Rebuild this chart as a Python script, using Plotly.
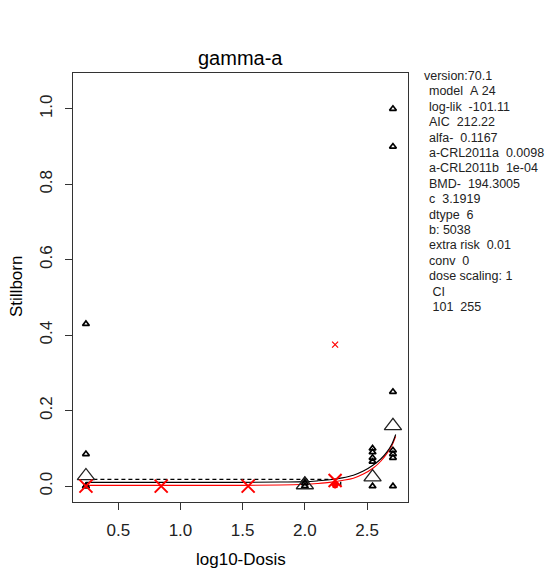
import plotly.graph_objects as go

# ---- data ----
obs_x = [0.240, 0.240, 0.240, 0.240,
         2.000, 2.000, 2.000,
         2.544, 2.544, 2.544, 2.544, 2.544,
         2.708, 2.708, 2.708, 2.708, 2.708, 2.708, 2.708]
obs_y = [0.430, 0.085, 0.000, 0.000,
         0.016, 0.008, 0.000,
         0.100, 0.090, 0.075, 0.065, 0.000,
         1.000, 0.900, 0.250, 0.095, 0.085, 0.075, 0.000]

mean_x = [0.240, 2.000, 2.544, 2.708]
mean_y = [0.027, 0.003, 0.024, 0.160]

red_x = [0.240, 0.845, 1.544, 2.243]
red_y = [0.000, 0.000, 0.000, 0.015]

red_small_x = [2.243]
red_small_y = [0.375]
red_star_x = [2.243]
red_star_y = [0.003]

fit_x = [0.24, 1.00, 1.50, 1.80, 2.00, 2.10, 2.20, 2.30, 2.39, 2.47, 2.55, 2.61, 2.66, 2.70, 2.73]
fit_black = [0.010, 0.010, 0.010, 0.011, 0.012, 0.014, 0.017, 0.022, 0.029, 0.040, 0.056, 0.072, 0.091, 0.112, 0.137]
fit_red = [0.002, 0.002, 0.002, 0.003, 0.005, 0.007, 0.010, 0.015, 0.021, 0.032, 0.048, 0.066, 0.087, 0.108, 0.132]

dash_x = [0.30, 2.24]
dash_y = [0.018, 0.018]

bmd_x = [2.288, 2.288]
bmd_y = [0.001, 0.012]

x_ticks = [0.5, 1.0, 1.5, 2.0, 2.5]
y_ticks = [0.0, 0.2, 0.4, 0.6, 0.8, 1.0]

info_lines = ["version:70.1", "model  A 24", "log-lik  -101.11", "AIC  212.22",
              "alfa-  0.1167", "a-CRL2011a  0.0098", "a-CRL2011b  1e-04",
              "BMD-  194.3005", "c  3.1919", "dtype  6", "b: 5038",
              "extra risk  0.01", "conv  0", "dose scaling: 1", " CI", " 101  255"]

title = "gamma-a"
xlab = "log10-Dosis"
ylab = "Stillborn"

# ---- layout constants ----
W, H = 555, 570
L, R, T, B = 73, 408, 73, 502
FONT = "Liberation Sans, Arial, sans-serif"

def px(xp):
    return (xp - L) / (R - L)

def py(yp):
    return (B - yp) / (B - T)

fig = go.Figure()

fig.add_trace(go.Scatter(x=fit_x, y=fit_red, mode="lines", line=dict(color="red", width=1.1),
                         line_shape="spline", hoverinfo="skip"))
fig.add_trace(go.Scatter(x=fit_x, y=fit_black, mode="lines", line=dict(color="black", width=1.1),
                         line_shape="spline", hoverinfo="skip"))
fig.add_trace(go.Scatter(x=dash_x, y=dash_y, mode="lines",
                         line=dict(color="black", width=1.3, dash="4px,3px")))
fig.add_trace(go.Scatter(x=bmd_x, y=bmd_y, mode="lines", line=dict(color="black", width=1.3)))

fig.add_trace(go.Scatter(x=obs_x, y=obs_y, mode="markers",
                         marker=dict(symbol="triangle-up-open", size=6, color="black",
                                     line=dict(width=1.7, color="black"))))
fig.add_trace(go.Scatter(x=mean_x, y=mean_y, mode="markers",
                         marker=dict(symbol="triangle-up-open", size=15, color="#222222",
                                     line=dict(width=1.3, color="#222222"))))
fig.add_trace(go.Scatter(x=red_x, y=red_y, mode="markers",
                         marker=dict(symbol="x-thin-open", size=13, color="red",
                                     line=dict(width=2, color="red"))))
fig.add_trace(go.Scatter(x=red_small_x, y=red_small_y, mode="markers",
                         marker=dict(symbol="x-thin-open", size=6, color="red",
                                     line=dict(width=1.2, color="red"))))
fig.add_trace(go.Scatter(x=red_star_x, y=red_star_y, mode="markers",
                         marker=dict(symbol="asterisk-open", size=6, color="red",
                                     line=dict(width=2, color="red"))))

annotations = [
    dict(text=title, x=0.5, y=py(58), xref="paper", yref="paper", showarrow=False,
         xanchor="center", yanchor="middle", font=dict(size=20, color="black", family=FONT)),
    dict(text=xlab, x=0.5, y=py(559), xref="paper", yref="paper", showarrow=False,
         xanchor="center", yanchor="middle", font=dict(size=17, color="black", family=FONT)),
    dict(text=ylab, x=px(16), y=py(287), xref="paper", yref="paper", showarrow=False,
         textangle=-90, xanchor="center", yanchor="middle",
         font=dict(size=17, color="black", family=FONT)),
]
for i, line in enumerate(info_lines):
    txt = line.replace(" ", "\u00a0")
    xpos = 422 if i == 0 else 427
    annotations.append(dict(text=txt, x=px(xpos), y=py(76 + i * 15.4), xref="paper", yref="paper",
                            showarrow=False, xanchor="left", yanchor="middle",
                            font=dict(size=12.5, color="#222222", family=FONT)))

fig.update_layout(
    width=W, height=H,
    margin=dict(l=L, r=W - R, t=T, b=H - B, pad=0),
    plot_bgcolor="white", paper_bgcolor="white",
    showlegend=False,
    annotations=annotations,
    font=dict(family=FONT, color="black"),
    xaxis=dict(range=[0.136, 2.829], tickvals=x_ticks, ticktext=[f"{v:.1f}" for v in x_ticks],
               showgrid=False, zeroline=False, showline=True, mirror=True,
               linecolor="#333333", linewidth=1, ticks="outside", ticklen=7, tickcolor="#333333",
               tickfont=dict(size=17, color="#222222"), ticklabelstandoff=6),
    yaxis=dict(range=[-0.042, 1.095], tickvals=y_ticks, ticktext=[f"{v:.1f}" for v in y_ticks],
               showgrid=False, zeroline=False, showline=True, mirror=True,
               linecolor="#333333", linewidth=1, ticks="outside", ticklen=7, tickcolor="#333333",
               tickangle=-90, tickfont=dict(size=17, color="#222222"), ticklabelstandoff=6),
)

fig.write_html("out.html")
